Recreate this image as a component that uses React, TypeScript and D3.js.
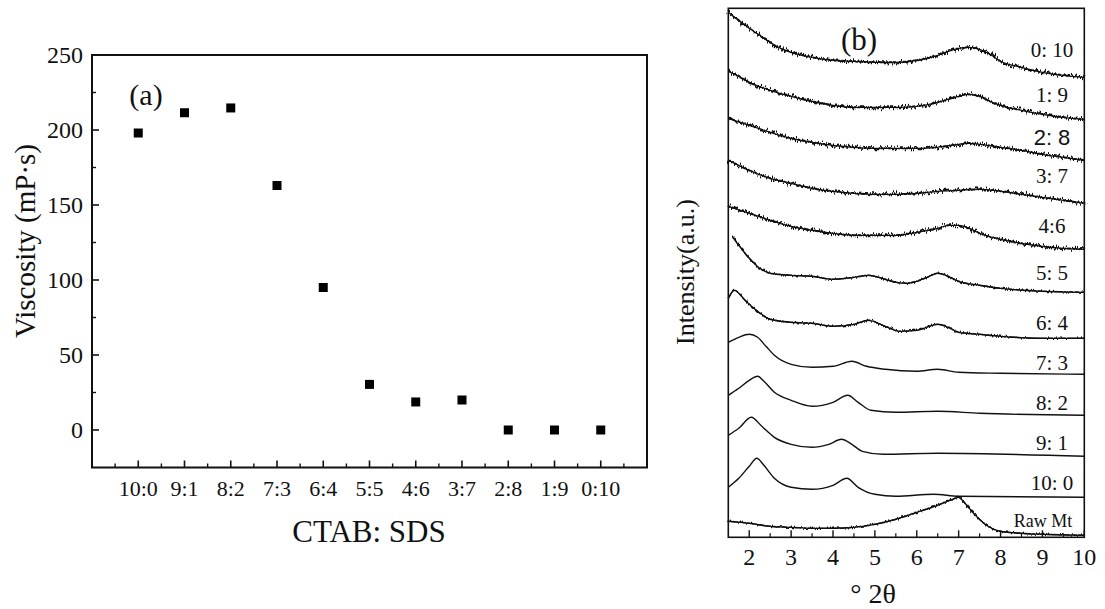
import React from "react";
import * as d3 from "d3";

// ---------- Panel (a): viscosity ----------
const ratios = ["10:0", "9:1", "8:2", "7:3", "6:4", "5:5", "4:6", "3:7", "2:8", "1:9", "0:10"];
const viscosity = [198, 211.5, 214.7, 163, 95, 30.4, 18.7, 20, 0, 0, 0];
const viscTicks = [0, 50, 100, 150, 200, 250];
const viscMinor = [25, 75, 125, 175, 225];

// ---------- Panel (b): XRD patterns, [2θ, intensity a.u. incl. offset] ----------
const xrd_0_10: [number, number][] = [[1.5,525],[1.75,517],[2,509],[2.25,502],[2.5,495],[2.75,489],[3,485],[3.5,480],[4,477],[4.5,476],[5,475],[5.5,475],[6,477],[6.5,482],[6.75,486],[7,489],[7.25,490],[7.5,488],[7.75,483],[8,476],[8.5,470],[9,465],[9.5,462],[10,460]];
const xrd_1_9: [number, number][] = [[1.5,466],[1.75,461],[2,455],[2.5,447],[3,441],[3.5,436],[4,432],[4.5,430],[5,430],[5.5,430],[6,431],[6.5,435],[7,441],[7.25,443],[7.5,441],[7.75,436],[8,432],[8.5,427],[9,423],[9.5,420],[10,418]];
const xrd_2_8: [number, number][] = [[1.5,419],[2,412],[2.5,405],[3,399],[3.5,395],[4,392],[4.5,390],[5,389],[5.5,389],[6,389],[6.5,390],[7,393],[7.25,394],[7.5,393],[8,390],[8.5,387],[9,383],[9.5,380],[10,377]];
const xrd_3_7: [number, number][] = [[1.5,377],[1.75,372],[2,367],[2.5,359],[3,354],[3.5,349],[4,346],[4.5,344],[5,343],[5.5,343],[6,344],[6.5,346],[7,347],[7.5,348],[8,346],[8.5,343],[9,340],[9.5,337],[10,334]];
const xrd_4_6: [number, number][] = [[1.5,331],[2,324],[2.5,317],[3,311],[3.5,307],[4,304],[4.5,302],[5,302],[5.5,302],[6,305],[6.5,309],[6.75,312],[7,312],[7.25,309],[7.5,304],[8,298],[8.5,294],[9,291],[9.5,289],[10,288]];
const xrd_5_5: [number, number][] = [[1.6,301],[1.75,292],[2,279],[2.25,269],[2.5,264],[3,262],[3.5,261],[4,258],[4.5,260],[4.85,262],[5.25,258],[5.5,255],[5.75,254],[6,256],[6.25,260],[6.5,264],[6.75,261],[7,256],[7.5,252],[8,249],[9,246],[10,245]];
const xrd_6_4: [number, number][] = [[1.5,239],[1.65,247],[1.9,237],[2.2,226],[2.5,218],[3,215],[3.5,214],[4,211],[4.5,213],[4.85,217],[5.25,211],[5.6,206],[6,207],[6.5,213],[6.75,210],[7,205],[7.5,203],[8,201],[9,199],[10,199]];
const xrd_7_3: [number, number][] = [[1.5,195],[1.75,200],[2,203],[2.2,200],[2.4,191],[2.6,182],[3,173],[3.5,170],[4,171],[4.45,176],[4.8,171],[5.25,168],[6,166],[6.5,168],[7,165],[8,164],[10,163]];
const xrd_8_2: [number, number][] = [[1.5,142],[1.75,149],[2,157],[2.2,161],[2.35,156],[2.6,145],[3,137],[3.5,131],[4,135],[4.35,142],[4.6,135],[4.9,127],[5.5,125],[6.5,126],[7.5,124],[10,122]];
const xrd_9_1: [number, number][] = [[1.5,102],[1.75,109],[2.05,120],[2.3,111],[2.6,100],[3,93],[3.5,90],[3.9,93],[4.2,98],[4.45,93],[4.7,86],[5.2,83],[6.5,84],[10,81]];
const xrd_10_0: [number, number][] = [[1.5,50],[1.75,59],[2,71],[2.18,79],[2.35,72],[2.6,59],[3,50],[3.5,48],[4,52],[4.33,59],[4.6,50],[5,43],[5.5,41],[6.4,43],[7,41],[10,40]];
const xrd_raw: [number, number][] = [[1.5,16],[2,14],[2.5,11],[3,10],[3.5,9],[4,9],[4.5,10],[5,13],[5.5,18],[6,25],[6.5,32],[6.85,38],[7,40],[7.15,34],[7.4,22],[7.7,11],[8,6],[8.5,4],[9,3],[10,2]];

const seriesNames = ["0: 10", "1: 9", "2: 8", "3: 7", "4:6", "5: 5", "6: 4", "7: 3", "8: 2", "9: 1", "10: 0", "Raw Mt"];
const seriesData = [xrd_0_10, xrd_1_9, xrd_2_8, xrd_3_7, xrd_4_6, xrd_5_5, xrd_6_4, xrd_7_3, xrd_8_2, xrd_9_1, xrd_10_0, xrd_raw];
const seriesNoise = ["strong", "strong", "strong", "strong", "strong", "mild", "mild", "none", "none", "none", "none", "mild"];
const labelLevels = [487, 442, 399, 361, 311, 264, 214, 174, 134, 94, 54, 17];
const thetaTicks = [2, 3, 4, 5, 6, 7, 8, 9, 10];
const thetaMinor = [2.5, 3.5, 4.5, 5.5, 6.5, 7.5, 8.5, 9.5];

const SERIF = "'Liberation Serif', 'Times New Roman', serif";

export default function App() {
  // panel a scales
  const ax = d3.scaleLinear().domain([0, 12]).range([92, 647]);
  const ay = d3.scaleLinear().domain([-25, 250]).range([467.5, 55]);
  // panel b scales
  const bx = d3.scaleLinear().domain([1.5, 10]).range([728.3, 1084.3]);
  const by = d3.scaleLinear().domain([0, 529]).range([537.3, 8.3]);
  const line = d3
    .line<[number, number]>()
    .x((d) => bx(d[0]))
    .y((d) => by(d[1]))
    .curve(d3.curveMonotoneX);

  return (
    <svg width={1105} height={609} style={{ display: "block", position: "absolute", left: 0, top: 0 }} fontFamily={SERIF}>
      <defs>
        <filter id="noiseStrong" x="-2%" y="-30%" width="104%" height="160%">
          <feTurbulence type="fractalNoise" baseFrequency="0.8 0.05" numOctaves={2} seed={4} result="t" />
          <feDisplacementMap in="SourceGraphic" in2="t" scale={8} xChannelSelector="R" yChannelSelector="G" />
        </filter>
        <filter id="noiseMild" x="-2%" y="-30%" width="104%" height="160%">
          <feTurbulence type="fractalNoise" baseFrequency="0.8 0.05" numOctaves={2} seed={7} result="t" />
          <feDisplacementMap in="SourceGraphic" in2="t" scale={4} xChannelSelector="R" yChannelSelector="G" />
        </filter>
      </defs>
      <rect width={1105} height={609} fill="#fff" />

      {/* ---------- Panel (a) ---------- */}
      <g>
        {viscTicks.map((t) => (
          <g key={"yt" + t}>
            <line x1={ax(0)} x2={ax(0) + 7} y1={ay(t)} y2={ay(t)} stroke="#111" strokeWidth={1.6} />
            <text x={83} y={ay(t) + 8} textAnchor="end" fontSize={24} fill="#111">{t}</text>
          </g>
        ))}
        {viscMinor.map((t) => (
          <line key={"ym" + t} x1={ax(0)} x2={ax(0) + 4} y1={ay(t)} y2={ay(t)} stroke="#111" strokeWidth={1.4} />
        ))}
        {ratios.map((r, i) => (
          <g key={"xt" + r}>
            <line x1={ax(i + 1)} x2={ax(i + 1)} y1={ay(-25)} y2={ay(-25) - 7} stroke="#111" strokeWidth={1.6} />
            <text x={ax(i + 1)} y={496} textAnchor="middle" fontSize={22} fill="#111">{r}</text>
          </g>
        ))}
        {d3.range(0.5, 12, 1).map((m) => (
          <line key={"xm" + m} x1={ax(m)} x2={ax(m)} y1={ay(-25)} y2={ay(-25) - 4} stroke="#111" strokeWidth={1.4} />
        ))}
        <rect x={ax(0)} y={ay(250)} width={ax(12) - ax(0)} height={ay(-25) - ay(250)} fill="none" stroke="#111" strokeWidth={2} />
        {viscosity.map((v, i) => (
          <rect key={"pt" + i} x={ax(i + 1) - 4.5} y={ay(v) - 4.5} width={9} height={9} fill="#000" />
        ))}
        <text x={146} y={105} textAnchor="middle" fontSize={30} fill="#111">(a)</text>
        <text transform={`translate(35,${(55 + 467) / 2 - 20}) rotate(-90)`} textAnchor="middle" fontSize={29} fill="#111">Viscosity (mP·s)</text>
        <text x={369} y={542} textAnchor="middle" fontSize={31} fill="#111">CTAB: SDS</text>
      </g>

      {/* ---------- Panel (b) ---------- */}
      <g>
        {seriesData.map((s, i) => {
          const d = line(s) || "";
          const kind = seriesNoise[i];
          return (
            <g key={"s" + i}>
              <path d={d} fill="none" stroke="#111" strokeWidth={kind === "none" ? 1.4 : 1.3} />
              {kind !== "none" && (
                <path
                  d={d}
                  fill="none"
                  stroke="#111"
                  strokeWidth={kind === "strong" ? 2 : 1.5}
                  filter={kind === "strong" ? "url(#noiseStrong)" : "url(#noiseMild)"}
                />
              )}
            </g>
          );
        })}
        {seriesNames.map((n, i) => (
          <text
            key={"l" + i}
            x={n === "Raw Mt" ? 1043 : 1052}
            y={by(labelLevels[i]) + 7}
            textAnchor="middle"
            fontSize={n === "Raw Mt" ? 18 : n === "2: 8" ? 22 : 21}
            fontFamily={n === "2: 8" ? "'Liberation Sans', Arial, sans-serif" : SERIF}
            fill="#111"
          >
            {n}
          </text>
        ))}
        {thetaTicks.map((t) => (
          <g key={"bt" + t}>
            <line x1={bx(t)} x2={bx(t)} y1={537.3} y2={530.3} stroke="#111" strokeWidth={1.4} />
            <text x={bx(t)} y={565} textAnchor="middle" fontSize={24} fill="#111">{t}</text>
          </g>
        ))}
        {thetaMinor.map((t) => (
          <line key={"bm" + t} x1={bx(t)} x2={bx(t)} y1={537.3} y2={533.3} stroke="#111" strokeWidth={1.2} />
        ))}
        <rect x={728.3} y={8.3} width={1084.3 - 728.3} height={537.3 - 8.3} fill="none" stroke="#111" strokeWidth={1.6} />
        <text x={859} y={50} textAnchor="middle" fontSize={31} fill="#111">(b)</text>
        <text transform={`translate(694,272) rotate(-90)`} textAnchor="middle" fontSize={26} fill="#111">Intensity(a.u.)</text>
        <text x={873} y={603} textAnchor="middle" fontSize={28} fill="#111">° 2θ</text>
      </g>
    </svg>
  );
}
